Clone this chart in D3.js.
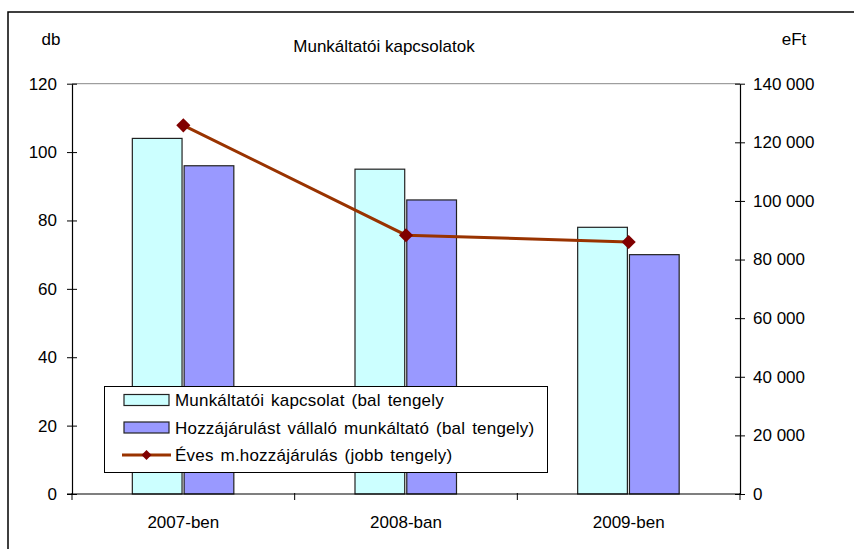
<!DOCTYPE html>
<html><head><meta charset="utf-8">
<script src="https://cdn.jsdelivr.net/npm/d3@7"></script>
<style>body{margin:0;background:#fff}svg{display:block}text{font-family:"Liberation Sans",Arial,sans-serif;fill:#000}</style>
</head><body><svg id="c" width="854" height="549"></svg>
<script>
const categories = ["2007-ben", "2008-ban", "2009-ben"];
const seriesNames = ["Munkáltatói kapcsolat (bal tengely", "Hozzájárulást vállaló munkáltató (bal tengely)", "Éves m.hozzájárulás (jobb tengely)"];
const kapcsolat = [104, 95, 78];
const vallalo = [96, 86, 70];
const hozzajarulas = [125800, 88300, 86000];
const leftTicks = [0, 20, 40, 60, 80, 100, 120];
const rightTicks = [0, 20000, 40000, 60000, 80000, 100000, 120000, 140000];
const title = "Munkáltatói kapcsolatok";
const leftUnit = "db", rightUnit = "eFt";

const svg = d3.select("#c");
const L = 72, R = 740, T = 83.7, B = 494;
const colors = ["#CCFFFF", "#9999FF"];
const lineColor = "#993300", markColor = "#800000";

svg.append("rect").attr("x", 8).attr("y", 12).attr("width", 860).attr("height", 560)
  .attr("fill", "none").attr("stroke", "#000").attr("stroke-width", 1.5);

const x0 = d3.scaleBand().domain(categories).range([L, R]).padding(0);
const x1 = d3.scaleBand().domain([0, 1]).range([-51, 50.5]).paddingInner(0.04);
const yL = d3.scaleLinear().domain([0, 120]).range([B, T]);
const yR = d3.scaleLinear().domain([0, 140000]).range([B, T]);

// top gridline
svg.append("line").attr("x1", L).attr("x2", R).attr("y1", yL(120)).attr("y2", yL(120))
  .attr("stroke", "#888").attr("stroke-width", 1);

// bars
[kapcsolat, vallalo].forEach((vals, si) => {
  svg.append("g").selectAll("rect").data(vals).join("rect")
    .attr("x", (d, i) => x0(categories[i]) + x0.bandwidth() / 2 + x1(si))
    .attr("width", x1.bandwidth())
    .attr("y", d => yL(d))
    .attr("height", d => B - yL(d))
    .attr("fill", colors[si]).attr("stroke", "#222").attr("stroke-width", 1.2);
});

// axes
const fmt = d => d3.format(",")(d).replace(/,/g, " ");
const gl = svg.append("g").attr("transform", `translate(${L},0)`)
  .call(d3.axisLeft(yL).tickValues(leftTicks).tickSizeOuter(0).tickSizeInner(5).tickPadding(10));
const gr = svg.append("g").attr("transform", `translate(${R},0)`)
  .call(d3.axisRight(yR).tickValues(rightTicks).tickFormat(fmt).tickSizeOuter(0).tickSizeInner(5).tickPadding(8));
[gl, gr].forEach(g => {
  g.select(".domain").attr("stroke", "#000").attr("stroke-width", 1.2);
  g.selectAll(".tick line").attr("stroke", "#000").attr("x1", -5).attr("x2", 5);
  g.selectAll(".tick text").attr("font-size", 17).attr("font-family", "Liberation Sans, Arial, sans-serif");
});
const gx = svg.append("g").attr("transform", `translate(0,${B})`)
  .call(d3.axisBottom(x0).tickSize(0).tickPadding(22));
gx.select(".domain").remove();
gx.append("line").attr("x1", L - 5).attr("x2", R).attr("stroke", "#000").attr("stroke-width", 1.2);
gx.selectAll(".tick text").attr("font-size", 17).attr("font-family", "Liberation Sans, Arial, sans-serif");
const bounds = [L, ...categories.map(c => x0(c) + x0.bandwidth())];
gx.selectAll(".xb").data(bounds).join("line").attr("class", "xb")
  .attr("x1", d => d).attr("x2", d => d).attr("y1", -1).attr("y2", 6).attr("stroke", "#000");

// line series
const pts = hozzajarulas.map((v, i) => [x0(categories[i]) + x0.bandwidth() / 2, yR(v)]);
svg.append("path").attr("d", d3.line()(pts)).attr("fill", "none")
  .attr("stroke", lineColor).attr("stroke-width", 3);
svg.append("g").selectAll("path").data(pts).join("path")
  .attr("d", d3.symbol().type(d3.symbolSquare).size(100))
  .attr("transform", d => `translate(${d[0]},${d[1]}) rotate(45)`)
  .attr("fill", markColor);

// titles
svg.append("text").attr("x", 384).attr("y", 52).attr("text-anchor", "middle").attr("font-size", 17).text(title);
svg.append("text").attr("x", 51).attr("y", 45).attr("text-anchor", "middle").attr("font-size", 17).text(leftUnit);
svg.append("text").attr("x", 794).attr("y", 45).attr("text-anchor", "middle").attr("font-size", 17).text(rightUnit);

// legend
const lg = svg.append("g");
lg.append("rect").attr("x", 104.5).attr("y", 386.5).attr("width", 443).attr("height", 86)
  .attr("fill", "#fff").attr("stroke", "#000").attr("stroke-width", 1);
const rows = [400, 427.5, 455];
[0, 1].forEach(i => {
  lg.append("rect").attr("x", 124).attr("y", rows[i] - 5.5).attr("width", 45).attr("height", 11)
    .attr("fill", colors[i]).attr("stroke", "#222").attr("stroke-width", 1.2);
});
lg.append("line").attr("x1", 122).attr("x2", 171).attr("y1", rows[2]).attr("y2", rows[2])
  .attr("stroke", lineColor).attr("stroke-width", 3);
lg.append("path").attr("d", d3.symbol().type(d3.symbolSquare).size(50)())
  .attr("transform", `translate(146.5,${rows[2]}) rotate(45)`).attr("fill", markColor);
seriesNames.forEach((n, i) => {
  lg.append("text").attr("x", 175).attr("y", rows[i] + 6).attr("font-size", 17)
    .attr("letter-spacing", 0.2).attr("word-spacing", 2).text(n);
});
</script></body></html>
